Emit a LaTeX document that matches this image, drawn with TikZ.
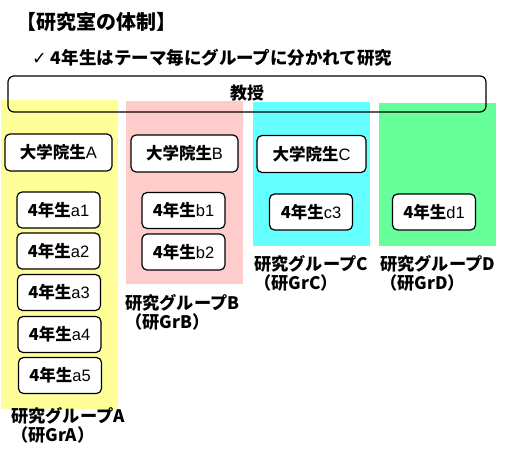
\documentclass[tikz,border=0pt]{standalone}
\usepackage{fontspec}
\setmainfont{Noto Sans CJK JP}
\newfontfamily\latf{Liberation Sans}
\newfontfamily\symf{DejaVu Sans}
\newcommand\lt[1]{{\latf\mdseries #1}}
\definecolor{yA}{HTML}{FFFF99}
\definecolor{pB}{HTML}{FFCCCC}
\definecolor{cC}{HTML}{66FFFF}
\definecolor{gD}{HTML}{66FF99}
\begin{document}
\begin{tikzpicture}[x=1pt,y=-1pt,
  box/.style={draw, line width=1.2pt, rounded corners=5pt, fill=white, minimum width=83pt, minimum height=36pt, inner sep=0pt, font=\fontsize{16.5}{16.5}\selectfont\bfseries},
  gbox/.style={box, minimum width=107pt, minimum height=37pt},
  lbl/.style={anchor=west, inner sep=0pt, font=\fontsize{17.2}{17.2}\selectfont\bfseries},
  ttl/.style={anchor=west, inner sep=0pt, font=\fontsize{20}{20}\selectfont\bfseries}]
\useasboundingbox (0,0) rectangle (508,455);
% group areas
\fill[yA] (1,100) rectangle (118,409);
\fill[pB] (126,101) rectangle (243,284);
\fill[cC] (253,102) rectangle (370,246);
\fill[gD] (379,103) rectangle (496,246);
% title
\node[ttl] (title) at (16,22) {【研究室の体制】};
\node[ttl, font=\fontsize{17.5}{17.5}\selectfont\bfseries] (sub) at (32,58) {{\symf\mdseries ✓} 4年生はテーマ毎にグループに分かれて研究};
% professor
\draw[line width=1.2pt, rounded corners=6pt] (8,76) rectangle (486,112);
\node[font=\fontsize{17}{17}\selectfont\bfseries, inner sep=0pt] (prof) at (247,93) {教授};
% graduate students
\node[gbox] (gA) at (58.5,152.5) {大学院生\lt{A}};
\node[gbox] (gB) at (184.5,153.5) {大学院生\lt{B}};
\node[gbox, minimum width=109pt] (gC) at (311.5,154) {大学院生\lt{C}};
% 4th year
\node[box] (a1) at (58.5,210) {4年生\lt{a1}};
\node[box] (a2) at (58.5,251) {4年生\lt{a2}};
\node[box] (a3) at (59,292.5) {4年生\lt{a3}};
\node[box] (a4) at (59.5,334.5) {4年生\lt{a4}};
\node[box] (a5) at (60,375.5) {4年生\lt{a5}};
\node[box] (b1) at (183.5,210.5) {4年生\lt{b1}};
\node[box] (b2) at (183.5,252) {4年生\lt{b2}};
\node[box] (c3) at (311,212) {4年生\lt{c3}};
\node[box] (d1) at (434,212) {4年生\lt{d1}};
% group labels
\node[lbl] (lA1) at (11,416) {研究グループA};
\node[lbl] (lA2) at (11,435) {（研GrA）};
\node[lbl] (lB1) at (125,303) {研究グループB};
\node[lbl] (lB2) at (125,322) {（研GrB）};
\node[lbl] (lC1) at (254,264) {研究グループC};
\node[lbl] (lC2) at (254,283) {（研GrC）};
\node[lbl] (lD1) at (380,264) {研究グループD};
\node[lbl] (lD2) at (380,283) {（研GrD）};
\end{tikzpicture}
\end{document}
